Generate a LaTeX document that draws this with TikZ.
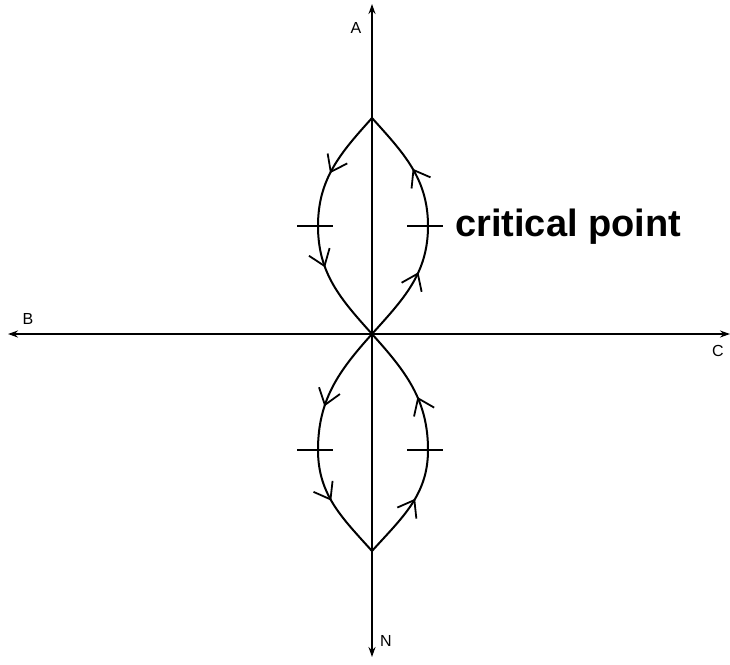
\documentclass[tikz,border=0pt]{standalone}
\usepackage{fontspec}
\setmainfont{Liberation Sans}
\usetikzlibrary{arrows.meta,decorations.markings}

\tikzset{
  axis/.style={line width=1.8pt,-{Stealth[length=10pt,width=7pt]}},
  lobe/.style={line width=2pt},
  flow/.style 2 args={postaction={decorate},decoration={markings,
    mark=at position #1 with {\arrow{Straight Barb[length=15pt,width=22pt,line width=1.8pt]}},
    mark=at position #2 with {\arrow{Straight Barb[length=15pt,width=22pt,line width=1.8pt]}}}},
  tick/.style={line width=1.8pt},
  lbl/.style={font=\fontsize{16}{18}\selectfont}
}

\begin{document}
\begin{tikzpicture}[x=1pt,y=-1pt]
\useasboundingbox (0,0) rectangle (730,664);
% axes
\coordinate (O) at (372,334);
\coordinate (Atip) at (372,4);
\coordinate (Ntip) at (372,657);
\coordinate (Btip) at (8,334);
\coordinate (Ctip) at (730,334);
\draw[axis] (O) -- (Atip);
\draw[axis] (O) -- (Ntip);
\draw[axis] (O) -- (Btip);
\draw[axis] (O) -- (Ctip);
\node[lbl] (A) at (356,28) {A};
\node[lbl] (B) at (28,319) {B};
\node[lbl] (C) at (718,351) {C};
\node[lbl] (N) at (386,641) {N};
% lobes
\coordinate (T) at (372,118);
\coordinate (U) at (372,551);
\coordinate (UL) at (318,226);
\coordinate (UR) at (428,226);
\coordinate (LL) at (318,450);
\coordinate (LR) at (428,450);
\draw[lobe,flow={0.28}{0.67}] (T) to[out=-132,in=90] (UL) to[out=-90,in=132] (O);
\draw[lobe,flow={0.31}{0.74}] (O) to[out=48,in=-90] (UR) to[out=90,in=-48] (T);
\draw[lobe,flow={0.35}{0.74}] (O) to[out=-132,in=90] (LL) to[out=-90,in=132] (U);
\draw[lobe,flow={0.27}{0.69}] (U) to[out=48,in=-90] (LR) to[out=90,in=-48] (O);
% ticks
\draw[tick] (297,226) -- (333,226);
\draw[tick] (407,226) -- (443,226);
\draw[tick] (297,450) -- (333,450);
\draw[tick] (407,450) -- (443,450);
\node[anchor=base west,inner sep=0pt,font=\bfseries\fontsize{38}{40}\selectfont] (cp) at (455,236) {critical point};
\end{tikzpicture}
\end{document}
